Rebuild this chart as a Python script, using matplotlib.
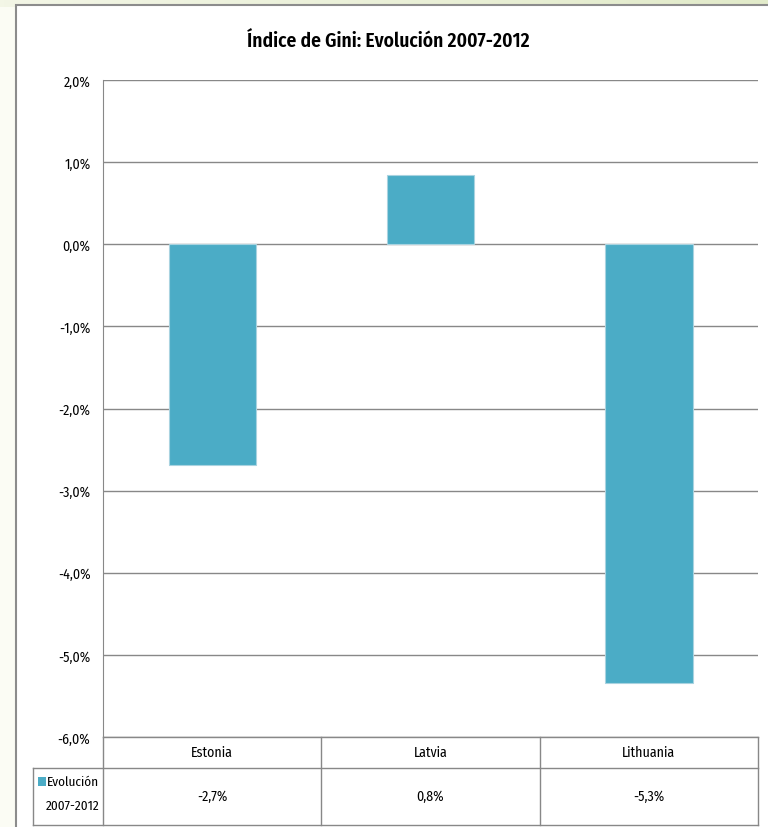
import matplotlib

matplotlib.use("Agg")
import matplotlib.pyplot as plt
import numpy as np
from matplotlib.patches import Rectangle

countries = ["Estonia", "Latvia", "Lithuania"]
gini_change = [-0.0269, 0.0084, -0.0534]
series_name = "Evolución 2007-2012"
title = "Índice de Gini: Evolución 2007-2012"

W, H = 768, 828
BAR = "#4bacc6"
GRID = "#888888"

plt.rcParams["font.family"] = ["Fira Sans Condensed", "DejaVu Sans"]


def pct(v, nd=1):
    return f"{v * 100:.{nd}f}%".replace(".", ",")


def fx(px):
    return px / W


def fy(py):
    return 1 - py / H


fig = plt.figure(figsize=(W / 100, H / 100), dpi=100)
fig.patch.set_facecolor("#fbfcf4")

# faint green band across the top
bg = fig.add_axes([0, 0, 1, 1], zorder=-5)
bg.set_axis_off()
grad = np.linspace(0, 1, 256)[None, :]
band = matplotlib.colors.LinearSegmentedColormap.from_list("g", ["#f3f6e6", "#e2ebca"])
bg.imshow(grad, extent=[0, 1, fy(8), 1], aspect="auto", cmap=band)
bg.set_xlim(0, 1)
bg.set_ylim(0, 1)

# white chart area with grey frame (right and bottom edges run off the page)
fig.patches.append(Rectangle((fx(16), -0.1), 1.2, fy(6) + 0.1, transform=fig.transFigure,
                             facecolor="white", edgecolor="#8c8c8c", lw=1.5, zorder=-1))

ax = fig.add_axes([fx(103), fy(738), fx(758) - fx(103), fy(81) - fy(738)])
x = np.arange(len(countries))
ax.bar(x, gini_change, width=0.4, color=BAR, edgecolor="#a9d3e0", lw=0.8, zorder=3)
ax.set_xlim(-0.5, len(countries) - 0.5)
ax.set_ylim(-0.06, 0.02)
yt = np.arange(-0.06, 0.021, 0.01)
ax.set_yticks(yt)
ax.set_yticklabels([pct(v) for v in yt], fontsize=10)
ax.tick_params(axis="y", length=0, pad=9)
ax.set_xticks([])
ax.yaxis.grid(True, color=GRID, lw=1)
for s in ["top", "right", "bottom"]:
    ax.spines[s].set_visible(False)
ax.spines["left"].set_color(GRID)

fig.text(fx(388), fy(41), title, ha="center", va="center", fontsize=14, fontweight="semibold")

# data table under the plot
cols = [103, 321.3, 539.7, 758]
line = dict(color=GRID, lw=1, transform=fig.transFigure)
fig.add_artist(plt.Line2D([fx(103), fx(758)], [fy(738), fy(738)], **line))
fig.add_artist(plt.Line2D([fx(33), fx(758)], [fy(769), fy(769)], **line))
fig.add_artist(plt.Line2D([fx(33), fx(758)], [fy(826), fy(826)], **line))
fig.add_artist(plt.Line2D([fx(33), fx(33)], [fy(769), fy(826)], **line))
for c in cols:
    fig.add_artist(plt.Line2D([fx(c), fx(c)], [fy(738), fy(826)], **line))

for i, (name, val) in enumerate(zip(countries, gini_change)):
    cx = (cols[i] + cols[i + 1]) / 2
    fig.text(fx(cx), fy(753), name, ha="center", va="center", fontsize=10)
    fig.text(fx(cx), fy(797), pct(val), ha="center", va="center", fontsize=10)

fig.patches.append(Rectangle((fx(38), fy(787)), fx(8), 9 / H, transform=fig.transFigure,
                             facecolor=BAR, edgecolor="none"))
first, second = series_name.split(" ")
fig.text(fx(99), fy(782), first, ha="right", va="center", fontsize=9.5)
fig.text(fx(100), fy(806), second, ha="right", va="center", fontsize=9.5)

fig.savefig("out.png", dpi=100, facecolor=fig.get_facecolor())
